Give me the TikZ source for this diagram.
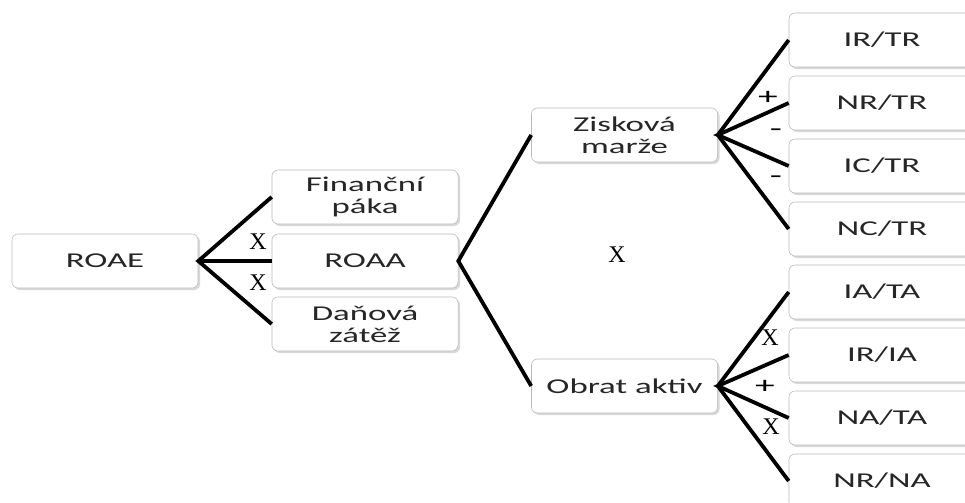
\documentclass[tikz,border=0pt]{standalone}
\usepackage{fontspec}
\setmainfont[FakeStretch=1.65]{Carlito}
\newfontfamily\signfont{Liberation Serif}
\usetikzlibrary{shadows}

\tikzset{
  box/.style={draw=gray!55, fill=white, rounded corners=0.15cm,
    minimum width=4.65cm, minimum height=1.35cm, inner sep=0pt, align=center,
    text=black!85, font=\fontsize{15}{15.6}\selectfont,
    drop shadow={shadow xshift=0.05cm, shadow yshift=-0.05cm, fill=gray!60, opacity=0.5}},
  link/.style={line width=2.7pt},
  sign/.style={font=\fontsize{17}{17}\signfont, inner sep=0pt},
  pm/.style={font=\fontsize{17}{17}\selectfont, inner sep=0pt}
}

\begin{document}
\begin{tikzpicture}[x=0.025cm, y=-0.025cm]
    \useasboundingbox (0,0) rectangle (965,503);
    \clip (0,0) rectangle (965,503);
    % left part
    \node[box] (roae) at (105,261) {ROAE};
    \node[box] (fin) at (365,197) {Finanční\\páka};
    \node[box] (roaa) at (365,261) {ROAA};
    \node[box] (dan) at (365,324) {Daňová\\zátěž};
    % middle
    \node[box] (zisk) at (624.5,135) {Zisková\\marže};
    \node[box] (obrat) at (624.5,386) {Obrat aktiv};
    % right column
    \node[box] (irtr) at (882,40) {IR/TR};
    \node[box] (nrtr) at (882,103) {NR/TR};
    \node[box] (ictr) at (882,166) {IC/TR};
    \node[box] (nctr) at (882,229) {NC/TR};
    \node[box] (iata) at (882,292) {IA/TA};
    \node[box] (iria) at (882,355) {IR/IA};
    \node[box] (nata) at (882,418) {NA/TA};
    \node[box] (nrna) at (882,481) {NR/NA};

    \draw[link] (fin.west) -- (roae.east) -- (dan.west);
    \draw[link] (roae.east) -- (roaa.west);
    \draw[link] (zisk.west) -- (roaa.east) -- (obrat.west);
    \draw[link] (irtr.west) -- (zisk.east) -- (nctr.west);
    \draw[link] (nrtr.west) -- (zisk.east) -- (ictr.west);
    \draw[link] (iata.west) -- (obrat.east) -- (nrna.west);
    \draw[link] (iria.west) -- (obrat.east) -- (nata.west);

    % operators
    \node[sign] (x1) at (258,242) {X};
    \node[sign] (x2) at (258,283) {X};
    \node[sign] (x3) at (617,255) {X};
    \node[pm] (p1) at (768,98) {+};
    \node[pm] (m1) at (776,133) {-};
    \node[pm] (m2) at (776,180) {-};
    \node[sign] (x4) at (770,338) {X};
    \node[pm] (p2) at (765,387) {+};
    \node[sign] (x5) at (771,427) {X};
\end{tikzpicture}
\end{document}
